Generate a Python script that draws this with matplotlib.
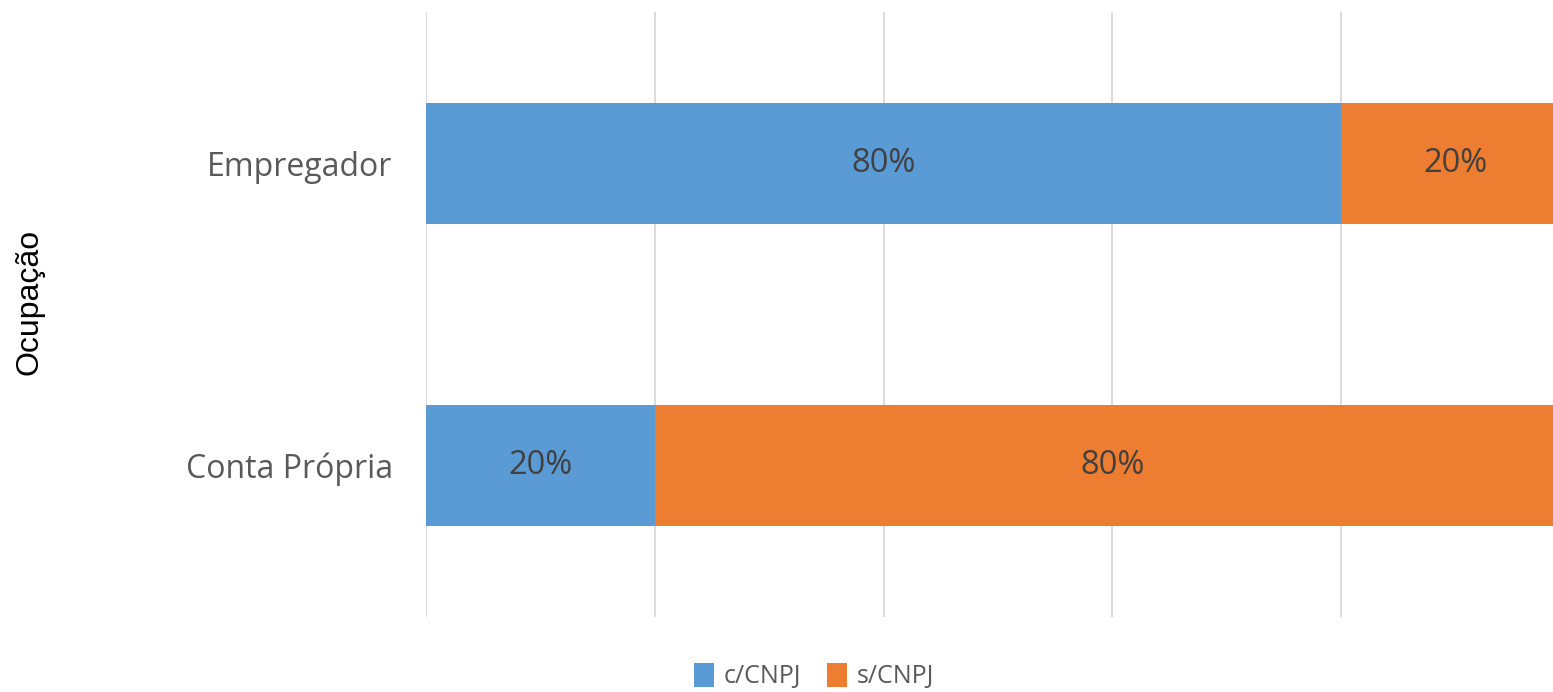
import matplotlib

matplotlib.use("Agg")
import matplotlib.pyplot as plt
from matplotlib.patches import Patch

categories = ["Conta Própria", "Empregador"]
series = ["c/CNPJ", "s/CNPJ"]
c_cnpj = [0.20, 0.80]
s_cnpj = [0.80, 0.20]
colors = ["#5B9BD5", "#ED7D31"]

plt.rcParams["font.family"] = ["Open Sans", "DejaVu Sans"]

fig = plt.figure(figsize=(15.53, 6.92), dpi=100)
ax = fig.add_axes([426 / 1553, 1 - 617 / 692, (1553 - 426) / 1553, 605 / 692])

y = range(len(categories))
ax.barh(y, c_cnpj, height=0.4, color=colors[0], zorder=2)
ax.barh(y, s_cnpj, left=c_cnpj, height=0.4, color=colors[1], zorder=2)

# value labels centred in each segment
for i, (a, b) in enumerate(zip(c_cnpj, s_cnpj)):
    ax.text(a / 2, i, f"{a:.0%}", ha="center", va="center", fontsize=23.5, color="#404040")
    ax.text(a + b / 2, i, f"{b:.0%}", ha="center", va="center", fontsize=23.5, color="#404040")

ax.set_xlim(0, 0.9853)
ax.set_ylim(-0.5, 1.5)
ax.set_xticks([0, 0.2, 0.4, 0.6, 0.8])
ax.set_xticklabels([])
ax.xaxis.grid(True, color="#D9D9D9", linewidth=1.3, zorder=0)
ax.tick_params(axis="both", length=0)
ax.set_yticks(list(y), categories, fontsize=23, color="#595959")
ax.tick_params(axis="y", pad=24)
for s in ax.spines.values():
    s.set_visible(False)

fig.text(30 / 1553, 1 - 302 / 692, "Ocupação", rotation=90, ha="center", va="center",
         fontsize=23, color="black", family=["Liberation Sans", "DejaVu Sans"])

handles = [Patch(facecolor=c, edgecolor="none") for c in colors]
fig.legend(handles, series, loc="center", bbox_to_anchor=(814 / 1553, 1 - 676 / 692), ncol=2,
           frameon=False, fontsize=18, labelcolor="#595959", handlelength=0.8,
           handleheight=1.1, handletextpad=0.4, columnspacing=1.0, borderpad=0.1)

fig.savefig("out.png", dpi=100)
